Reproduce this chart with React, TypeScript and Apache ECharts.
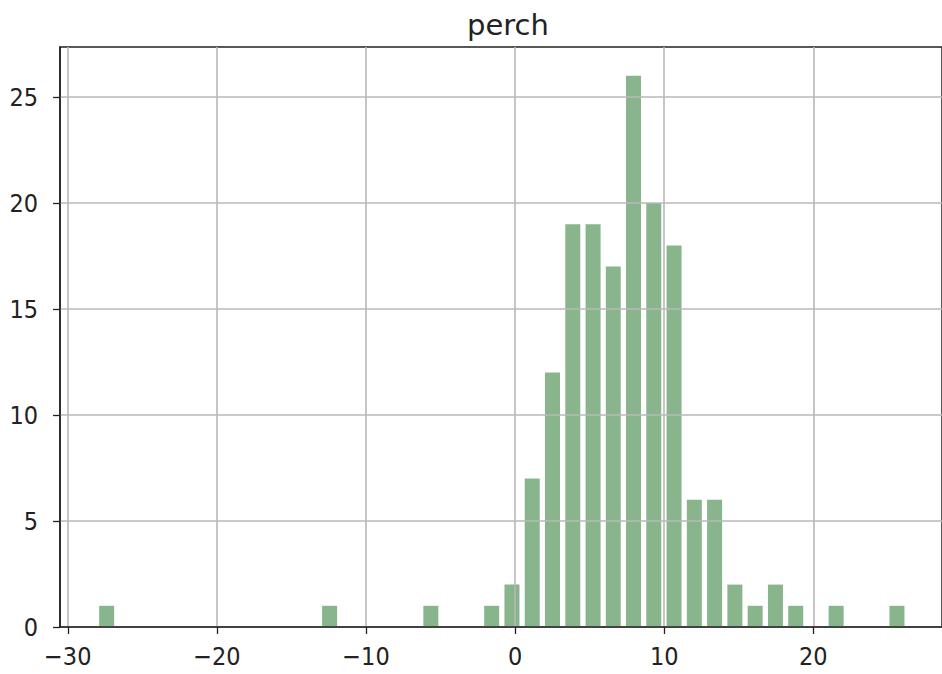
import React, { useEffect, useRef } from "react";
import * as echarts from "echarts";

const titleText = "perch";
const binEdges = [
  -28.07, -26.71, -25.35, -23.99, -22.63, -21.28, -19.92, -18.56, -17.2, -15.84,
  -14.48, -13.12, -11.76, -10.4, -9.04, -7.69, -6.33, -4.97, -3.61, -2.25,
  -0.89, 0.47, 1.83, 3.19, 4.55, 5.91, 7.26, 8.62, 9.98, 11.34,
  12.7, 14.06, 15.42, 16.78, 18.14, 19.5, 20.85, 22.21, 23.57, 24.93, 26.29,
];
const binCounts = [
  1, 0, 0, 0, 0, 0, 0, 0, 0, 0,
  0, 1, 0, 0, 0, 0, 1, 0, 0, 1,
  2, 7, 12, 19, 19, 17, 26, 20, 18, 6,
  6, 2, 1, 2, 1, 0, 1, 0, 0, 1,
];
const xTicks = [-30, -20, -10, 0, 10, 20];
const yTicks = [0, 5, 10, 15, 20, 25];

const FONT = "'DejaVu Sans Condensed', 'DejaVu Sans', sans-serif";
const TITLE_FONT = "'DejaVu Sans', sans-serif";

export default function App() {
  const ref = useRef<HTMLDivElement>(null);
  useEffect(() => {
    document.body.style.margin = "0";
    const chart = echarts.init(ref.current!, null, { renderer: "svg" });
    const data = binCounts.map((c, i) => [binEdges[i], binEdges[i + 1], c]);
    chart.setOption({
      animation: false,
      backgroundColor: "#fff",
      title: {
        text: titleText,
        left: 503,
        textAlign: "center",
        top: 5,
        textStyle: { fontFamily: TITLE_FONT, fontSize: 29, fontWeight: "normal", color: "#222" },
      },
      grid: {
        left: 60,
        right: -1,
        top: 47,
        bottom: 47,
        show: true,
        borderColor: "#222",
        borderWidth: 1.5,
        backgroundColor: "transparent",
      },
      xAxis: {
        type: "value",
        min: -30.52,
        max: 28.63,
        z: 10,
        axisLine: { show: true, onZero: false, lineStyle: { color: "#222", width: 1.5 } },
        axisTick: { show: true, length: 7, customValues: xTicks, lineStyle: { color: "#222", width: 1.3 } },
        axisLabel: {
          customValues: xTicks,
          margin: 17,
          fontFamily: FONT,
          fontSize: 25,
          color: "#222",
          formatter: (v: number) => (v < 0 ? "\u2212" + Math.abs(v) : String(v)),
        },
        splitLine: { show: true, lineStyle: { color: "#b8b8b8", width: 1.6 } },
      },
      yAxis: {
        type: "value",
        min: 0,
        max: 27.36,
        z: 10,
        axisLine: { show: true, onZero: false, lineStyle: { color: "#222", width: 1.5 } },
        axisTick: { show: true, length: 7, customValues: yTicks, lineStyle: { color: "#222", width: 1.3 } },
        axisLabel: {
          customValues: yTicks,
          margin: 22,
          fontFamily: FONT,
          fontSize: 25,
          color: "#222",
        },
        splitLine: { show: true, lineStyle: { color: "#b8b8b8", width: 1.6 } },
      },
      series: [
        {
          type: "custom",
          z: 2,
          encode: { x: [0, 1], y: 2 },
          data,
          renderItem: (params: any, api: any) => {
            const x0 = api.value(0);
            const x1 = api.value(1);
            const h = api.value(2);
            if (!h) return null;
            const pTop = api.coord([x0, h]);
            const pBot = api.coord([x1, 0]);
            const w = pBot[0] - pTop[0];
            return {
              type: "rect",
              shape: {
                x: pTop[0] + w * 0.13,
                y: pTop[1],
                width: w * 0.74,
                height: pBot[1] - pTop[1],
              },
              style: { fill: "#88b58c" },
            };
          },
        },
      ],
    });
    return () => chart.dispose();
  }, []);
  return <div ref={ref} style={{ width: 942, height: 674 }} />;
}
